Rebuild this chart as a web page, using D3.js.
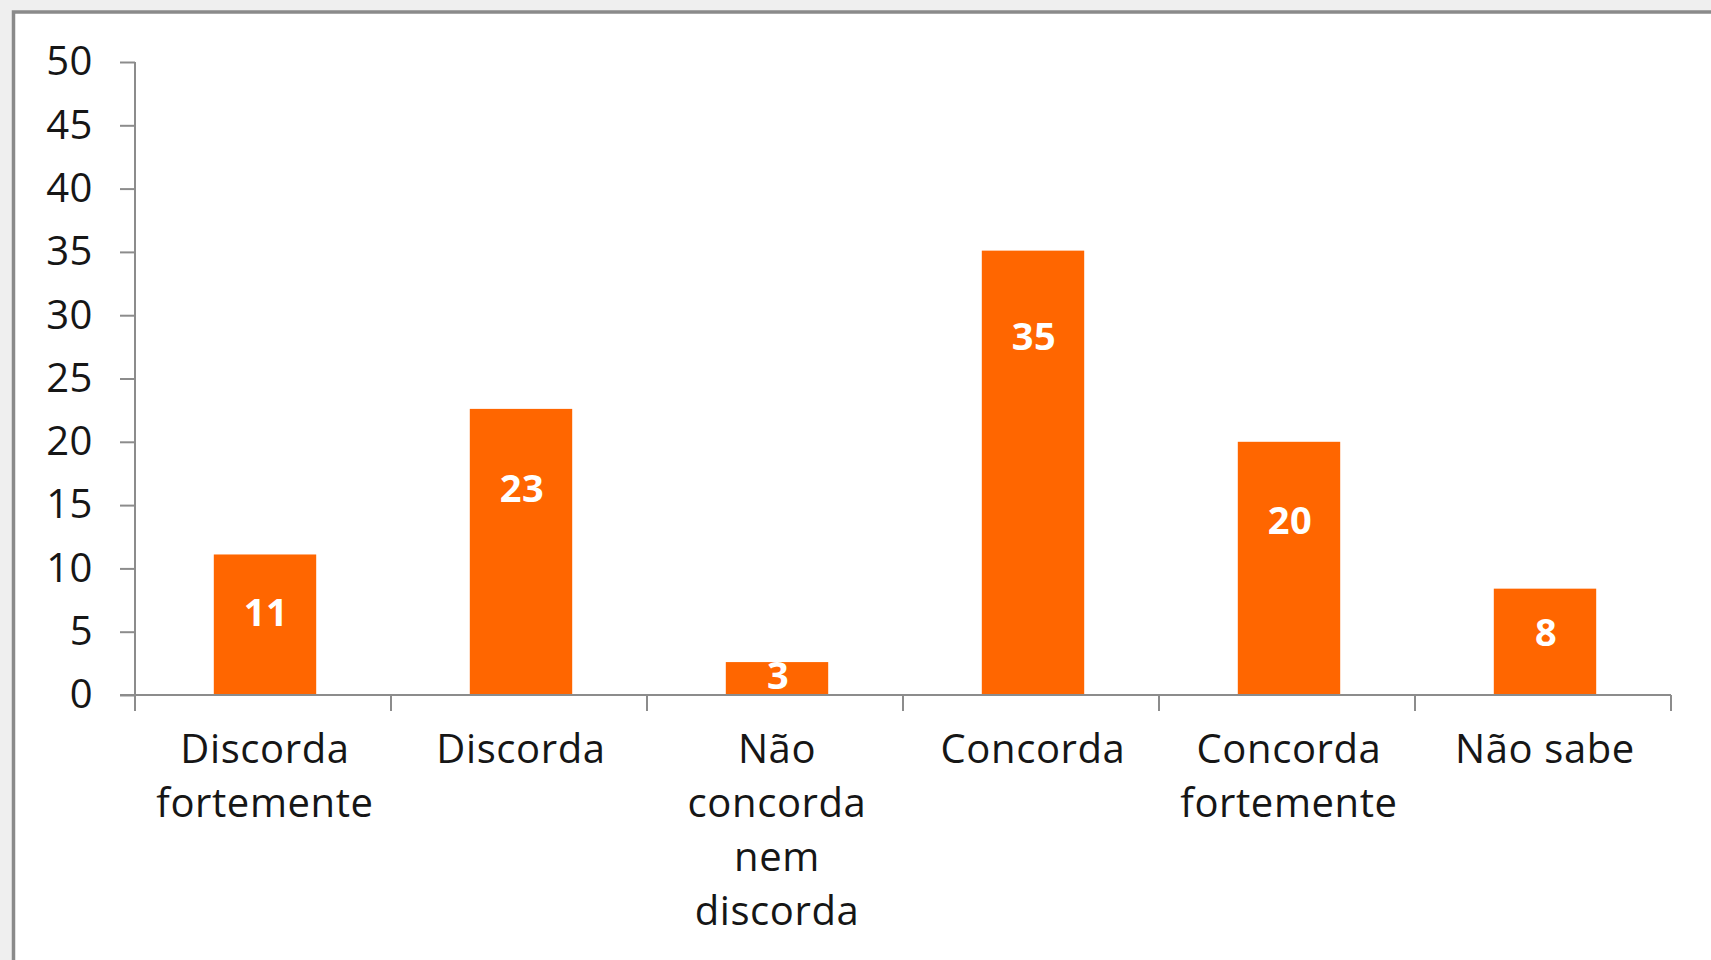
<!DOCTYPE html>
<html>
<head>
<meta charset="utf-8">
<script src="https://cdn.jsdelivr.net/npm/d3@7"></script>
<style>
    html, body { margin: 0; padding: 0; background: #efefef; }
    svg { display: block; }
</style>
</head>
<body>
<svg id="drawing_bar"></svg>
<script>
// data
const categories = ["Discorda fortemente", "Discorda", "Não concorda nem discorda", "Concorda", "Concorda fortemente", "Não sabe"];
const categoryLines = [["Discorda", "fortemente"], ["Discorda"], ["Não", "concorda", "nem", "discorda"], ["Concorda"], ["Concorda", "fortemente"], ["Não sabe"]];
const values = [11.1, 22.6, 2.6, 35.1, 20.0, 8.4];
const yTicks = [0, 5, 10, 15, 20, 25, 30, 35, 40, 45, 50];

const config = {
    width: 1711,
    height: 960,
    margin: {top: 62, right: 40, bottom: 265, left: 135}
};

const svg = d3.select('#drawing_bar')
    .attr('width', config.width)
    .attr('height', config.height);

// white panel with gray frame
svg.append('rect')
    .attr('x', 13.5)
    .attr('y', 12)
    .attr('width', config.width + 20)
    .attr('height', config.height + 20)
    .attr('fill', '#ffffff')
    .attr('stroke', '#8a8a8a')
    .attr('stroke-width', 3.5);

const inner_width = 1671 - config.margin.left;
const inner_height = 695 - config.margin.top;

const chart = svg.append('g')
    .attr('transform', `translate(${config.margin.left}, ${config.margin.top})`);

const xscale = d3.scaleBand()
    .domain(categories)
    .range([0, inner_width])
    .paddingInner(0.6)
    .paddingOuter(0.3);

const yscale = d3.scaleLinear()
    .domain([0, 50])
    .range([inner_height, 0]);

const font = "'Open Sans', sans-serif";
const axisColor = '#8c8c8c';
const textColor = '#161616';

// y axis
const yaxis = d3.axisLeft(yscale)
    .tickValues(yTicks)
    .tickSize(15)
    .tickPadding(27)
    .tickFormat(d3.format('d'));

const yaxis_group = chart.append('g').call(yaxis);
yaxis_group.select('.domain')
    .attr('stroke', axisColor)
    .attr('stroke-width', 2)
    .attr('d', `M0,0V${inner_height + 16}`);
yaxis_group.selectAll('.tick line')
    .attr('stroke', axisColor)
    .attr('stroke-width', 2);
yaxis_group.selectAll('.tick text')
    .attr('fill', textColor)
    .style('font-family', font)
    .style('font-size', '40px')
    .style('letter-spacing', '0.5px');

// bars
chart.selectAll('rect.bar')
    .data(values)
    .enter()
    .append('rect')
    .attr('class', 'bar')
    .attr('x', (d, i) => xscale(categories[i]) + 2)
    .attr('y', d => yscale(d))
    .attr('width', xscale.bandwidth())
    .attr('height', d => inner_height - yscale(d))
    .attr('fill', '#ff6600');

// x axis line and category boundary ticks
const xaxis_group = chart.append('g');
xaxis_group.append('line')
    .attr('x1', -15)
    .attr('x2', inner_width)
    .attr('y1', inner_height)
    .attr('y2', inner_height)
    .attr('stroke', axisColor)
    .attr('stroke-width', 2);

const boundaries = d3.range(categories.length + 1).map(i => i * xscale.step());
xaxis_group.selectAll('line.bound')
    .data(boundaries)
    .enter()
    .append('line')
    .attr('class', 'bound')
    .attr('x1', d => d)
    .attr('x2', d => d)
    .attr('y1', inner_height)
    .attr('y2', inner_height + 16)
    .attr('stroke', axisColor)
    .attr('stroke-width', 2);

// category labels
const catLabels = xaxis_group.selectAll('text.cat')
    .data(categoryLines)
    .enter()
    .append('text')
    .attr('class', 'cat')
    .attr('text-anchor', 'middle')
    .attr('fill', textColor)
    .style('font-family', font)
    .style('font-size', '40px')
    .style('letter-spacing', '0.6px');

catLabels.each(function (lines, i) {
    const cx = xscale(categories[i]) + xscale.bandwidth() / 2 + 2;
    d3.select(this).selectAll('tspan')
        .data(lines)
        .enter()
        .append('tspan')
        .attr('x', cx)
        .attr('y', (d, j) => inner_height + 68 + j * 54)
        .text(d => d);
});

// value labels inside the bars
const fmt = d3.format('.0f');
chart.selectAll('text.value')
    .data(values)
    .enter()
    .append('text')
    .attr('class', 'value')
    .attr('text-anchor', 'middle')
    .attr('x', (d, i) => xscale(categories[i]) + xscale.bandwidth() / 2 + 3)
    .attr('y', d => {
        const h = inner_height - yscale(d);
        return yscale(d) + Math.min(h * 0.41, 68 + h * 0.04);
    })
    .attr('dy', '0.36em')
    .attr('fill', '#ffffff')
    .style('font-family', font)
    .style('font-weight', 'bold')
    .style('font-size', '38px')
    .style('letter-spacing', '0.5px')
    .text(d => fmt(d));
</script>
</body>
</html>
